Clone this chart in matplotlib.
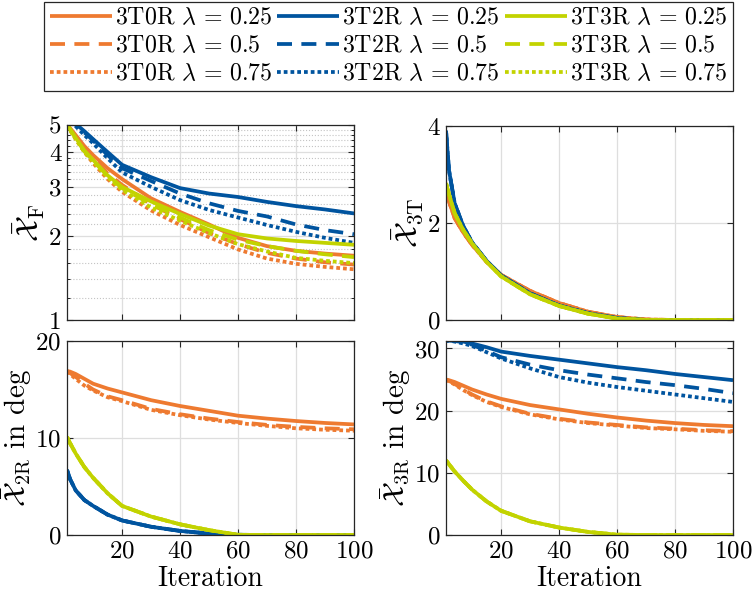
import matplotlib
matplotlib.use("Agg")
import matplotlib.pyplot as plt
import numpy as np
from matplotlib.ticker import FixedLocator, FixedFormatter, NullFormatter

plt.rcParams['font.family'] = ['cmr10', 'DejaVu Serif']
plt.rcParams['mathtext.fontset'] = 'cm'
plt.rcParams['axes.formatter.use_mathtext'] = True

iters = [1, 2, 4, 7, 10, 15, 20, 30, 40, 50, 60, 70, 80, 90, 100]

systems = ['3T0R', '3T2R', '3T3R']
lambdas = ['0.25', '0.5', '0.75']

# --- X_F (log scale) ---
xF_3T0R_025 = [5.0, 4.88, 4.6, 4.2, 3.9, 3.5, 3.2, 2.73, 2.44, 2.2, 1.97, 1.84, 1.77, 1.73, 1.70]
xF_3T0R_050 = [5.0, 4.85, 4.55, 4.1, 3.8, 3.35, 3.05, 2.6, 2.3, 2.05, 1.87, 1.74, 1.66, 1.61, 1.58]
xF_3T0R_075 = [5.0, 4.8, 4.45, 4.0, 3.65, 3.2, 2.88, 2.47, 2.19, 1.98, 1.79, 1.66, 1.59, 1.55, 1.52]
xF_3T2R_025 = [5.4, 5.3, 5.05, 4.75, 4.45, 4.0, 3.6, 3.25, 2.97, 2.84, 2.76, 2.65, 2.56, 2.49, 2.41]
xF_3T2R_050 = [5.4, 5.3, 5.0, 4.7, 4.4, 3.9, 3.5, 3.15, 2.84, 2.62, 2.46, 2.35, 2.2, 2.1, 2.03]
xF_3T2R_075 = [5.4, 5.25, 4.95, 4.6, 4.3, 3.8, 3.38, 3.0, 2.69, 2.48, 2.33, 2.19, 2.07, 1.97, 1.89]
xF_3T3R_025 = [5.0, 4.85, 4.5, 4.05, 3.75, 3.3, 3.0, 2.66, 2.4, 2.18, 2.03, 1.96, 1.92, 1.89, 1.86]
xF_3T3R_050 = [5.0, 4.82, 4.48, 4.02, 3.72, 3.28, 2.97, 2.6, 2.33, 2.1, 1.94, 1.84, 1.77, 1.72, 1.68]
xF_3T3R_075 = [5.0, 4.8, 4.45, 4.0, 3.7, 3.25, 2.93, 2.53, 2.27, 2.05, 1.87, 1.76, 1.67, 1.63, 1.60]

# --- X_3T ---
x3T_3T0R = [2.65, 2.45, 2.1, 1.8, 1.55, 1.2, 0.93, 0.6, 0.35, 0.17, 0.06, 0.01, 0.0, 0.0, 0.0]
x3T_3T2R = [3.9, 3.1, 2.4, 1.93, 1.6, 1.22, 0.92, 0.55, 0.3, 0.14, 0.04, 0.0, 0.0, 0.0, 0.0]
x3T_3T3R = [2.82, 2.6, 2.2, 1.85, 1.58, 1.2, 0.9, 0.53, 0.29, 0.13, 0.03, 0.0, 0.0, 0.0, 0.0]

# --- X_2R in deg ---
x2R_3T0R_025 = [16.9, 16.85, 16.6, 16.1, 15.6, 15.1, 14.7, 13.9, 13.3, 12.8, 12.3, 12.0, 11.75, 11.55, 11.4]
x2R_3T0R_050 = [16.9, 16.7, 16.3, 15.6, 15.0, 14.3, 13.9, 13.0, 12.45, 12.0, 11.65, 11.35, 11.15, 11.0, 10.9]
x2R_3T0R_075 = [16.9, 16.6, 16.1, 15.4, 14.9, 14.2, 13.8, 12.9, 12.35, 11.9, 11.55, 11.25, 11.0, 10.85, 10.75]
x2R_3T2R = [6.7, 5.8, 4.6, 3.6, 3.0, 2.1, 1.5, 0.85, 0.42, 0.15, 0.02, 0.0, 0.0, 0.0, 0.0]
x2R_3T3R = [10.1, 9.5, 8.4, 7.0, 5.9, 4.3, 3.0, 1.9, 1.1, 0.5, 0.02, 0.0, 0.0, 0.0, 0.0]

# --- X_3R in deg ---
x3R_3T0R_025 = [25.0, 24.9, 24.6, 24.0, 23.4, 22.6, 21.9, 20.9, 20.2, 19.5, 18.9, 18.4, 18.0, 17.7, 17.5]
x3R_3T0R_050 = [25.0, 24.8, 24.3, 23.4, 22.6, 21.5, 20.7, 19.5, 18.7, 18.1, 17.7, 17.3, 17.1, 16.85, 16.7]
x3R_3T0R_075 = [25.0, 24.7, 24.2, 23.3, 22.5, 21.4, 20.6, 19.4, 18.6, 18.0, 17.6, 17.2, 17.0, 16.75, 16.6]
x3R_3T2R_025 = [31.2, 31.3, 31.3, 31.1, 30.8, 30.2, 29.5, 28.8, 28.2, 27.6, 27.0, 26.5, 25.9, 25.4, 24.9]
x3R_3T2R_050 = [31.2, 31.3, 31.2, 31.0, 30.6, 29.6, 28.6, 27.4, 26.5, 25.8, 25.2, 24.6, 24.1, 23.5, 22.8]
x3R_3T2R_075 = [31.2, 31.3, 31.1, 30.8, 30.4, 29.4, 28.4, 26.8, 25.4, 24.5, 23.8, 23.2, 22.6, 22.0, 21.4]
x3R_3T3R = [12.0, 11.4, 10.2, 8.7, 7.3, 5.4, 3.9, 2.2, 1.2, 0.5, 0.05, 0.0, 0.0, 0.0, 0.0]

data_F = [[xF_3T0R_025, xF_3T0R_050, xF_3T0R_075],
          [xF_3T2R_025, xF_3T2R_050, xF_3T2R_075],
          [xF_3T3R_025, xF_3T3R_050, xF_3T3R_075]]
data_3T = [[x3T_3T0R] * 3, [x3T_3T2R] * 3, [x3T_3T3R] * 3]
data_2R = [[x2R_3T0R_025, x2R_3T0R_050, x2R_3T0R_075],
           [x2R_3T2R] * 3, [x2R_3T3R] * 3]
data_3R = [[x3R_3T0R_025, x3R_3T0R_050, x3R_3T0R_075],
           [x3R_3T2R_025, x3R_3T2R_050, x3R_3T2R_075],
           [x3R_3T3R] * 3]

colors = ['#EE7A30', '#00549F', '#C2D300']
styles = [dict(linestyle='-'),
          dict(linestyle=(0, (4, 2.5))),
          dict(linestyle=(0, (1, 0.8)))]
lw = 2.7

fig = plt.figure(figsize=(7.55, 5.98), dpi=100)
W, H = 755, 598


def add_ax(x0, x1, y0, y1):
    return fig.add_axes([x0 / W, 1 - y1 / H, (x1 - x0) / W, (y1 - y0) / H])


ax_F = add_ax(67, 354, 125, 320)
ax_T = add_ax(446, 733, 126, 320)
ax_2R = add_ax(67, 354, 341, 535)
ax_3R = add_ax(446, 733, 341, 535)

for ax, dat in [(ax_F, data_F), (ax_T, data_3T), (ax_2R, data_2R), (ax_3R, data_3R)]:
    for i, sysname in enumerate(systems):
        for j, lam in enumerate(lambdas):
            ax.plot(iters, dat[i][j], color=colors[i], lw=lw,
                    dash_capstyle='butt', solid_capstyle='butt',
                    label=sysname + r' $\lambda\,=\,' + lam + '$', **styles[j])
    ax.set_xlim(1, 100)
    ax.set_xticks([20, 40, 60, 80, 100])
    ax.grid(True, which='major', color='#dedede', lw=0.9)
    ax.tick_params(direction='in', top=True, right=True, length=4,
                   labelsize=18, color='#262626', width=0.8, pad=4)
    for s in ax.spines.values():
        s.set_color('#262626')
        s.set_linewidth(0.9)
    ax.set_axisbelow(True)

# top-left log axis
ax_F.set_yscale('log')
ax_F.set_ylim(1, 5)
ax_F.yaxis.set_major_locator(FixedLocator([1, 2, 3, 4, 5]))
ax_F.yaxis.set_major_formatter(FixedFormatter(['1', '2', '3', '4', '5']))
minor = [v for v in np.arange(1.2, 5.0, 0.2) if abs(v - round(v)) > 1e-6]
ax_F.yaxis.set_minor_locator(FixedLocator(minor))
ax_F.yaxis.set_minor_formatter(NullFormatter())
ax_F.grid(True, which='minor', axis='y', color='#c4c4c4', lw=0.8, linestyle=':')
ax_F.tick_params(which='minor', direction='in', right=True, length=2)
ax_F.set_ylabel(r'$\bar{\mathcal{X}}_\mathrm{F}$', fontsize=22, labelpad=1)

ax_T.set_ylim(0, 4)
ax_T.set_yticks([0, 2, 4])
ax_T.set_ylabel(r'$\bar{\mathcal{X}}_\mathrm{3T}$', fontsize=22, labelpad=1)

ax_2R.set_ylim(0, 20)
ax_2R.set_yticks([0, 10, 20])
ax_2R.set_ylabel(r'$\bar{\mathcal{X}}_\mathrm{2R}$ in deg', fontsize=21, labelpad=1)

ax_3R.set_ylim(0, 31.2)
ax_3R.set_yticks([0, 10, 20, 30])
ax_3R.set_ylabel(r'$\bar{\mathcal{X}}_\mathrm{3R}$ in deg', fontsize=21, labelpad=1)

for ax in (ax_F, ax_T):
    ax.tick_params(labelbottom=False)
for ax in (ax_2R, ax_3R):
    ax.set_xlabel('Iteration', fontsize=20, labelpad=2)

handles, labels = ax_F.get_legend_handles_labels()
leg = fig.legend(handles, labels, ncol=3, loc='upper center',
                 bbox_to_anchor=(0.5146, 0.997), borderaxespad=0,
                 fontsize=17.2, frameon=True, fancybox=False,
                 edgecolor='#262626', framealpha=1, borderpad=0.22,
                 handlelength=2.6, handletextpad=0.12, columnspacing=0.2,
                 labelspacing=0.25)
leg.get_frame().set_linewidth(0.9)

fig.savefig('out.png', dpi=100)
